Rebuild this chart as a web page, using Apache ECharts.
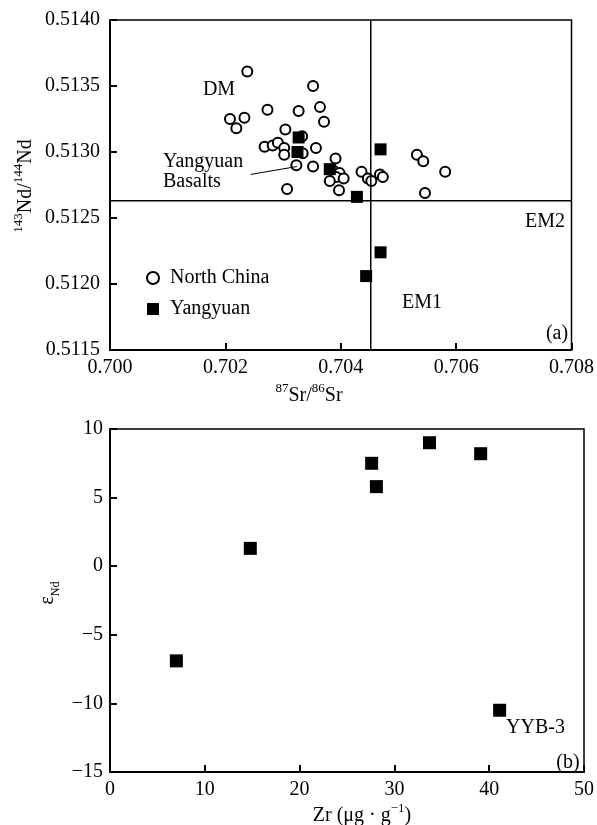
<!DOCTYPE html>
<html>
<head>
<meta charset="utf-8">
<script src="https://cdn.jsdelivr.net/npm/echarts@6/dist/echarts.min.js"></script>
<style>
  html, body { margin: 0; padding: 0; background: #fff; }
  #chart { width: 597px; height: 825px; }
</style>
</head>
<body>
<div id="chart"></div>
<script>
  // (a) 87Sr/86Sr - 143Nd/144Nd
  const northChinaSr = [0.70238, 0.70273, 0.70208, 0.70233, 0.70219, 0.70304, 0.70327, 0.70352, 0.70364, 0.70371,
    0.70268, 0.70282, 0.70291, 0.70302, 0.70302, 0.70323, 0.70333, 0.70334, 0.70352, 0.70357,
    0.70307, 0.70391, 0.70387, 0.70398, 0.70392, 0.70381, 0.70405, 0.70397, 0.70436, 0.70447,
    0.70453, 0.70468, 0.70473, 0.70532, 0.70543, 0.70581, 0.70546];
  const northChinaNd = [0.51361, 0.51332, 0.51325, 0.51326, 0.51318, 0.51317, 0.51331, 0.51350, 0.51334, 0.51323,
    0.51304, 0.51305, 0.51307, 0.51303, 0.51298, 0.51290, 0.51312, 0.51299, 0.51289, 0.51303,
    0.51272, 0.51295, 0.51286, 0.51284, 0.51281, 0.51278, 0.51280, 0.51271, 0.51285, 0.51280,
    0.51278, 0.51283, 0.51281, 0.51298, 0.51293, 0.51285, 0.51269];
  const yangyuanSr = [0.70327, 0.70325, 0.70381, 0.70428, 0.70469, 0.70469, 0.70444];
  const yangyuanNd = [0.51311, 0.51300, 0.51287, 0.51266, 0.51302, 0.51224, 0.51206];
  const srRange = [0.700, 0.708];
  const ndRange = [0.5115, 0.5140];
  const refSr = 0.70452;   // vertical divider
  const refNd = 0.51263;   // horizontal divider
  const basaltLeader = [[0.70244, 0.51283], [0.70324, 0.51289]];

  // (b) Zr - eNd
  const yangyuanZr = [7.0, 14.8, 27.6, 28.1, 33.7, 39.1, 41.1];
  const yangyuanEps = [-6.9, 1.3, 7.5, 5.8, 9.0, 8.2, -10.5];

  const serif = "'Liberation Serif', 'DejaVu Serif', serif";
  const zip = (a, b) => a.map((v, i) => [v, b[i]]);

  const chart = echarts.init(document.getElementById('chart'));

  const axisBase = {
    axisLine: { show: true, onZero: false, lineStyle: { color: '#000', width: 2 } },
    axisTick: { show: true, inside: true, length: 7, lineStyle: { color: '#000', width: 2 } },
    splitLine: { show: false },
    axisLabel: { color: '#000', fontFamily: serif, fontSize: 20 }
  };

  const refLine = (data) => ({
    type: 'line',
    xAxisIndex: 0, yAxisIndex: 0,
    data: data,
    symbol: 'none',
    silent: true,
    lineStyle: { color: '#000', width: 1.5 }
  });

  chart.setOption({
    animation: false,
    backgroundColor: '#fff',
    grid: [
      { left: 110, top: 20, width: 469, height: 330, show: true, borderColor: '#000', borderWidth: 1.5 },
      { left: 110, top: 429, width: 477, height: 343, show: true, borderColor: '#000', borderWidth: 1.5 }
    ],
    xAxis: [
      Object.assign({}, axisBase, {
        gridIndex: 0, type: 'value', min: srRange[0], max: srRange[1], interval: 0.002,
        axisLabel: Object.assign({}, axisBase.axisLabel, { margin: 8, formatter: v => v.toFixed(3) })
      }),
      Object.assign({}, axisBase, {
        gridIndex: 1, type: 'value', min: 0, max: 50, interval: 10,
        axisLabel: Object.assign({}, axisBase.axisLabel, { margin: 8 })
      })
    ],
    yAxis: [
      Object.assign({}, axisBase, {
        gridIndex: 0, type: 'value', min: ndRange[0], max: ndRange[1], interval: 0.0005,
        axisLabel: Object.assign({}, axisBase.axisLabel, { margin: 10, formatter: v => v.toFixed(4) })
      }),
      Object.assign({}, axisBase, {
        gridIndex: 1, type: 'value', min: -15, max: 10, interval: 5,
        axisLabel: Object.assign({}, axisBase.axisLabel, { margin: 7, formatter: v => String(v).replace('-', '\u2212') })
      })
    ],
    legend: {
      data: ['North China', 'Yangyuan'],
      orient: 'vertical',
      left: 146,
      top: 268,
      padding: 0,
      itemWidth: 12,
      itemHeight: 12,
      itemGap: 11,
      textStyle: { color: '#000', fontFamily: serif, fontSize: 20, padding: [0, 0, 0, 6] }
    },
    series: [
      refLine([[refSr, ndRange[0]], [refSr, ndRange[1]]]),
      refLine([[srRange[0], refNd], [srRange[1], refNd]]),
      {
        name: 'leader',
        type: 'line',
        xAxisIndex: 0, yAxisIndex: 0,
        data: basaltLeader,
        symbol: 'none',
        silent: true,
        lineStyle: { color: '#000', width: 1 }
      },
      {
        name: 'North China',
        type: 'scatter',
        xAxisIndex: 0, yAxisIndex: 0,
        data: zip(northChinaSr, northChinaNd),
        symbol: 'circle',
        symbolSize: 10,
        itemStyle: { color: '#fff', borderColor: '#000', borderWidth: 2, opacity: 1 }
      },
      {
        name: 'Yangyuan',
        type: 'scatter',
        xAxisIndex: 0, yAxisIndex: 0,
        data: zip(yangyuanSr, yangyuanNd),
        symbol: 'rect',
        symbolSize: 12,
        itemStyle: { color: '#000', opacity: 1 }
      },
      {
        name: 'Yangyuan Zr',
        type: 'scatter',
        xAxisIndex: 1, yAxisIndex: 1,
        data: zip(yangyuanZr, yangyuanEps),
        symbol: 'rect',
        symbolSize: 13,
        itemStyle: { color: '#000', opacity: 1 }
      }
    ],
    graphic: [
      { type: 'text', x: 219, y: 90, style: { text: 'DM', fill: '#000', font: '20px ' + serif, align: 'center', verticalAlign: 'middle' } },
      { type: 'text', x: 163, y: 162, style: { text: 'Yangyuan', fill: '#000', font: '20px ' + serif, align: 'left', verticalAlign: 'middle' } },
      { type: 'text', x: 163, y: 182, style: { text: 'Basalts', fill: '#000', font: '20px ' + serif, align: 'left', verticalAlign: 'middle' } },
      { type: 'text', x: 545, y: 222, style: { text: 'EM2', fill: '#000', font: '20px ' + serif, align: 'center', verticalAlign: 'middle' } },
      { type: 'text', x: 422, y: 303, style: { text: 'EM1', fill: '#000', font: '20px ' + serif, align: 'center', verticalAlign: 'middle' } },
      { type: 'text', x: 557, y: 334, style: { text: '(a)', fill: '#000', font: '20px ' + serif, align: 'center', verticalAlign: 'middle' } },
      { type: 'text', x: 506, y: 728, style: { text: 'YYB-3', fill: '#000', font: '20px ' + serif, align: 'left', verticalAlign: 'middle' } },
      { type: 'text', x: 568, y: 763, style: { text: '(b)', fill: '#000', font: '20px ' + serif, align: 'center', verticalAlign: 'middle' } },
      {
        type: 'text', x: 309, y: 394,
        style: {
          text: '{sup|87}{n|Sr/}{sup|86}{n|Sr}', fill: '#000', align: 'center', verticalAlign: 'middle',
          rich: {
            n: { fontFamily: serif, fontSize: 20, lineHeight: 24, verticalAlign: 'bottom' },
            sup: { fontFamily: serif, fontSize: 13, lineHeight: 24, verticalAlign: 'top' }
          }
        }
      },
      {
        type: 'text', x: 24, y: 186, rotation: Math.PI / 2,
        style: {
          text: '{sup|143}{n|Nd/}{sup|144}{n|Nd}', fill: '#000', align: 'center', verticalAlign: 'middle',
          rich: {
            n: { fontFamily: serif, fontSize: 20, lineHeight: 24, verticalAlign: 'bottom' },
            sup: { fontFamily: serif, fontSize: 13, lineHeight: 24, verticalAlign: 'top' }
          }
        }
      },
      {
        type: 'text', x: 50, y: 593, rotation: Math.PI / 2,
        style: {
          text: '{n|\u03b5}{sub|Nd}', fill: '#000', align: 'center', verticalAlign: 'middle',
          rich: {
            n: { fontFamily: serif, fontSize: 20, lineHeight: 24, verticalAlign: 'top' },
            sub: { fontFamily: serif, fontSize: 12, lineHeight: 24, verticalAlign: 'bottom' }
          }
        }
      },
      {
        type: 'text', x: 362, y: 814,
        style: {
          text: '{n|Zr (\u03bcg \u00b7 g}{sup|\u22121}{n|)}', fill: '#000', align: 'center', verticalAlign: 'middle',
          rich: {
            n: { fontFamily: serif, fontSize: 20, lineHeight: 24, verticalAlign: 'bottom' },
            sup: { fontFamily: serif, fontSize: 13, lineHeight: 24, verticalAlign: 'top' }
          }
        }
      }
    ]
  });
</script>
</body>
</html>
